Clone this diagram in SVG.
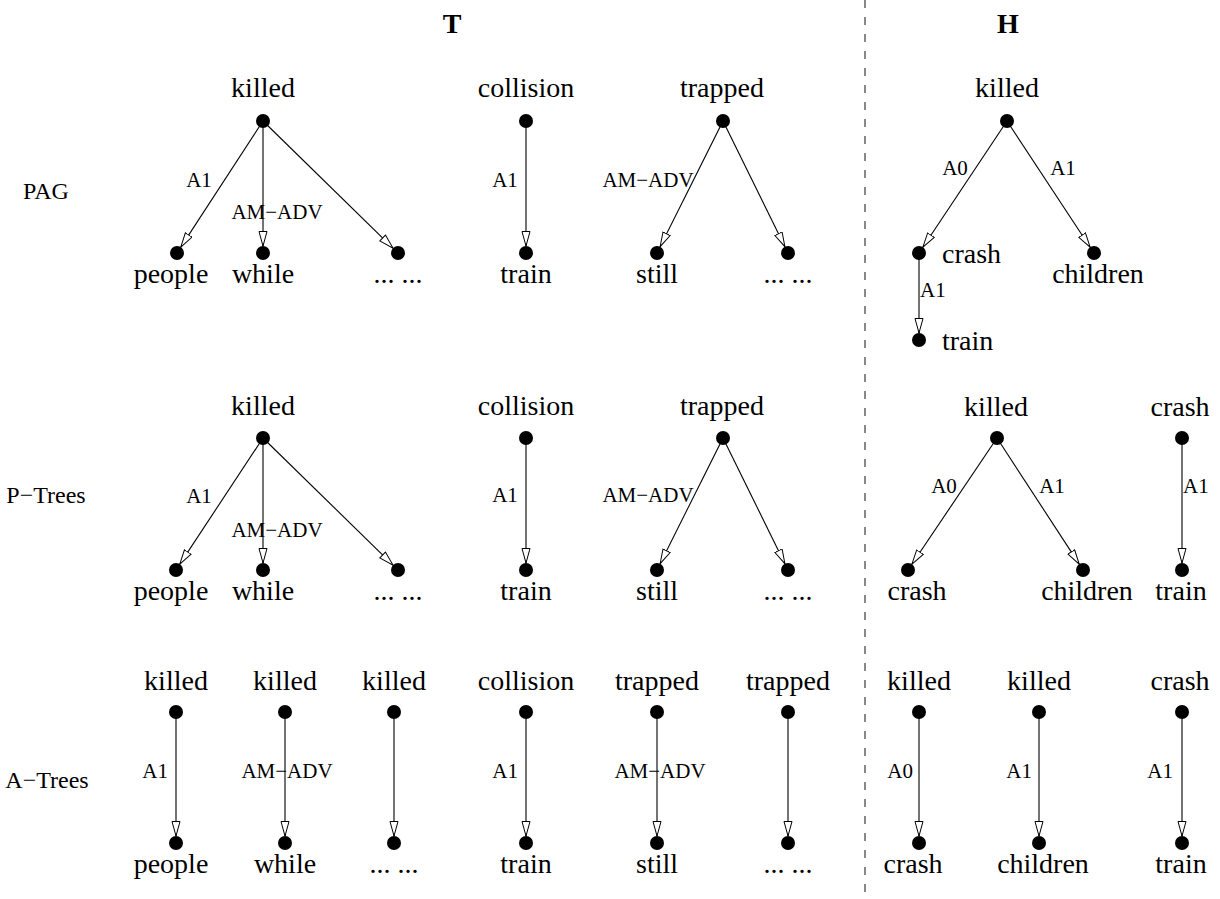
<svg xmlns="http://www.w3.org/2000/svg" width="1220" height="899" viewBox="0 0 1220 899">
<defs>
<marker id="arr" markerUnits="userSpaceOnUse" markerWidth="16" markerHeight="10" refX="15" refY="4.5" orient="auto">
<path d="M0.5,0.5 L15,4.5 L0.5,8.5 Z" fill="#fff" stroke="#000" stroke-width="1"/>
</marker>
</defs>
<style>
text{font-family:"Liberation Serif","Times New Roman",serif;fill:#000}
.n{font-size:28px;text-anchor:middle}
.ns{font-size:28px}
.e{font-size:21px;text-anchor:middle}
.ee{font-size:21px;text-anchor:end}
.es{font-size:21px}
.row{font-size:24px;text-anchor:middle}
.title{font-size:28px;font-weight:bold;text-anchor:middle}
.c line{stroke:#000;stroke-width:1.1;marker-end:url(#arr)}
circle{fill:#000}
</style>
<rect width="1220" height="899" fill="#fff"/>
<line x1="865" y1="0" x2="865" y2="899" stroke="#888" stroke-width="2" stroke-dasharray="8 9"/>
<text class="title" x="452" y="33">T</text>
<text class="title" x="1008" y="33">H</text>
<text class="row" x="46" y="199">PAG</text>
<text class="row" x="46" y="503">P−Trees</text>
<text class="row" x="47" y="788">A−Trees</text>

<g id="connectors" class="c">
<!-- PAG T -->
<line x1="263" y1="121" x2="180.8" y2="247.1"/>
<line x1="263" y1="121" x2="263" y2="246"/>
<line x1="263" y1="121" x2="393" y2="248.1"/>
<line x1="526" y1="121" x2="526" y2="246"/>
<line x1="723" y1="121" x2="660.1" y2="246.7"/>
<line x1="723" y1="121" x2="784.9" y2="246.7"/>
<!-- PAG H -->
<line x1="1007" y1="121" x2="922.9" y2="247.2"/>
<line x1="1007" y1="121" x2="1090.1" y2="247.2"/>
<line x1="919" y1="253" x2="919" y2="333"/>
<!-- P-Trees T -->
<line x1="263" y1="438" x2="179.8" y2="564.1"/>
<line x1="263" y1="438" x2="263" y2="563"/>
<line x1="263" y1="438" x2="393" y2="565.1"/>
<line x1="526" y1="438" x2="526" y2="563"/>
<line x1="723" y1="438" x2="660.1" y2="563.7"/>
<line x1="723" y1="438" x2="784.9" y2="563.7"/>
<!-- P-Trees H -->
<line x1="997" y1="438" x2="911.9" y2="564.2"/>
<line x1="997" y1="438" x2="1079.2" y2="564.1"/>
<line x1="1182" y1="438" x2="1182" y2="563"/>
<!-- A-Trees -->
<line x1="176" y1="712" x2="176" y2="836"/>
<line x1="285" y1="712" x2="285" y2="836"/>
<line x1="394" y1="712" x2="394" y2="836"/>
<line x1="526" y1="712" x2="526" y2="836"/>
<line x1="657" y1="712" x2="657" y2="836"/>
<line x1="788" y1="712" x2="788" y2="836"/>
<line x1="919" y1="712" x2="919" y2="836"/>
<line x1="1039" y1="712" x2="1039" y2="836"/>
<line x1="1182" y1="712" x2="1182" y2="836"/>
</g>

<g id="edge-labels">
<text class="e" x="199" y="187">A1</text>
<text class="e" x="277" y="219">AM−ADV</text>
<text class="e" x="505" y="187">A1</text>
<text class="e" x="648" y="187">AM−ADV</text>
<text class="e" x="955" y="175">A0</text>
<text class="e" x="1063" y="175">A1</text>
<text class="es" x="920" y="297">A1</text>
<text class="e" x="199" y="503">A1</text>
<text class="e" x="277" y="537">AM−ADV</text>
<text class="e" x="505" y="502">A1</text>
<text class="e" x="648" y="502">AM−ADV</text>
<text class="e" x="944" y="493">A0</text>
<text class="e" x="1052" y="493">A1</text>
<text class="es" x="1183" y="493">A1</text>
<text class="ee" x="168" y="778">A1</text>
<text class="e" x="287" y="778">AM−ADV</text>
<text class="ee" x="518" y="778">A1</text>
<text class="e" x="660" y="778">AM−ADV</text>
<text class="ee" x="913" y="778">A0</text>
<text class="ee" x="1032" y="778">A1</text>
<text class="ee" x="1173" y="778">A1</text>
</g>

<!-- PAG T nodes -->
<g id="pag-t-killed"><circle cx="263" cy="121" r="7"/><text class="n" x="263" y="97">killed</text></g>
<g id="pag-t-people"><circle cx="177" cy="253" r="7"/><text class="n" x="171" y="283">people</text></g>
<g id="pag-t-while"><circle cx="263" cy="253" r="7"/><text class="n" x="263" y="283">while</text></g>
<g id="pag-t-etc1"><circle cx="398" cy="253" r="7"/><text class="n" x="398" y="283">... ...</text></g>
<g id="pag-t-collision"><circle cx="526" cy="121" r="7"/><text class="n" x="526" y="97">collision</text></g>
<g id="pag-t-train"><circle cx="526" cy="253" r="7"/><text class="n" x="526" y="283">train</text></g>
<g id="pag-t-trapped"><circle cx="723" cy="121" r="7"/><text class="n" x="722" y="97">trapped</text></g>
<g id="pag-t-still"><circle cx="657" cy="253" r="7"/><text class="n" x="657" y="283">still</text></g>
<g id="pag-t-etc2"><circle cx="788" cy="253" r="7"/><text class="n" x="788" y="283">... ...</text></g>
<!-- PAG H nodes -->
<g id="pag-h-killed"><circle cx="1007" cy="121" r="7"/><text class="n" x="1007" y="97">killed</text></g>
<g id="pag-h-crash"><circle cx="919" cy="253" r="7"/><text class="ns" x="942" y="263">crash</text></g>
<g id="pag-h-children"><circle cx="1094" cy="253" r="7"/><text class="n" x="1098" y="283">children</text></g>
<g id="pag-h-train"><circle cx="919" cy="340" r="7"/><text class="ns" x="942" y="350">train</text></g>
<!-- P-Trees T nodes -->
<g id="pt-t-killed"><circle cx="263" cy="438" r="7"/><text class="n" x="263" y="415">killed</text></g>
<g id="pt-t-people"><circle cx="176" cy="570" r="7"/><text class="n" x="171" y="600">people</text></g>
<g id="pt-t-while"><circle cx="263" cy="570" r="7"/><text class="n" x="263" y="600">while</text></g>
<g id="pt-t-etc1"><circle cx="398" cy="570" r="7"/><text class="n" x="398" y="600">... ...</text></g>
<g id="pt-t-collision"><circle cx="526" cy="438" r="7"/><text class="n" x="526" y="415">collision</text></g>
<g id="pt-t-train"><circle cx="526" cy="570" r="7"/><text class="n" x="526" y="600">train</text></g>
<g id="pt-t-trapped"><circle cx="723" cy="438" r="7"/><text class="n" x="722" y="415">trapped</text></g>
<g id="pt-t-still"><circle cx="657" cy="570" r="7"/><text class="n" x="657" y="600">still</text></g>
<g id="pt-t-etc2"><circle cx="788" cy="570" r="7"/><text class="n" x="788" y="600">... ...</text></g>
<!-- P-Trees H nodes -->
<g id="pt-h-killed"><circle cx="997" cy="438" r="7"/><text class="n" x="996" y="416">killed</text></g>
<g id="pt-h-crash"><circle cx="908" cy="570" r="7"/><text class="n" x="917" y="600">crash</text></g>
<g id="pt-h-children"><circle cx="1083" cy="570" r="7"/><text class="n" x="1087" y="600">children</text></g>
<g id="pt-h-crash2"><circle cx="1182" cy="438" r="7"/><text class="n" x="1180" y="416">crash</text></g>
<g id="pt-h-train"><circle cx="1182" cy="570" r="7"/><text class="n" x="1181" y="600">train</text></g>
<!-- A-Trees nodes -->
<g id="at-killed1"><circle cx="176" cy="712" r="7"/><text class="n" x="176" y="690">killed</text></g>
<g id="at-people"><circle cx="176" cy="843" r="7"/><text class="n" x="171" y="873">people</text></g>
<g id="at-killed2"><circle cx="285" cy="712" r="7"/><text class="n" x="285" y="690">killed</text></g>
<g id="at-while"><circle cx="285" cy="843" r="7"/><text class="n" x="285" y="873">while</text></g>
<g id="at-killed3"><circle cx="394" cy="712" r="7"/><text class="n" x="394" y="690">killed</text></g>
<g id="at-etc1"><circle cx="394" cy="843" r="7"/><text class="n" x="394" y="873">... ...</text></g>
<g id="at-collision"><circle cx="526" cy="712" r="7"/><text class="n" x="526" y="690">collision</text></g>
<g id="at-train"><circle cx="526" cy="843" r="7"/><text class="n" x="526" y="873">train</text></g>
<g id="at-trapped1"><circle cx="657" cy="712" r="7"/><text class="n" x="657" y="690">trapped</text></g>
<g id="at-still"><circle cx="657" cy="843" r="7"/><text class="n" x="657" y="873">still</text></g>
<g id="at-trapped2"><circle cx="788" cy="712" r="7"/><text class="n" x="788" y="690">trapped</text></g>
<g id="at-etc2"><circle cx="788" cy="843" r="7"/><text class="n" x="788" y="873">... ...</text></g>
<g id="at-h-killed1"><circle cx="919" cy="712" r="7"/><text class="n" x="919" y="690">killed</text></g>
<g id="at-h-crash"><circle cx="919" cy="843" r="7"/><text class="n" x="913" y="873">crash</text></g>
<g id="at-h-killed2"><circle cx="1039" cy="712" r="7"/><text class="n" x="1039" y="690">killed</text></g>
<g id="at-h-children"><circle cx="1039" cy="843" r="7"/><text class="n" x="1043" y="873">children</text></g>
<g id="at-h-crash2"><circle cx="1182" cy="712" r="7"/><text class="n" x="1180" y="690">crash</text></g>
<g id="at-h-train"><circle cx="1182" cy="843" r="7"/><text class="n" x="1181" y="873">train</text></g>
</svg>
